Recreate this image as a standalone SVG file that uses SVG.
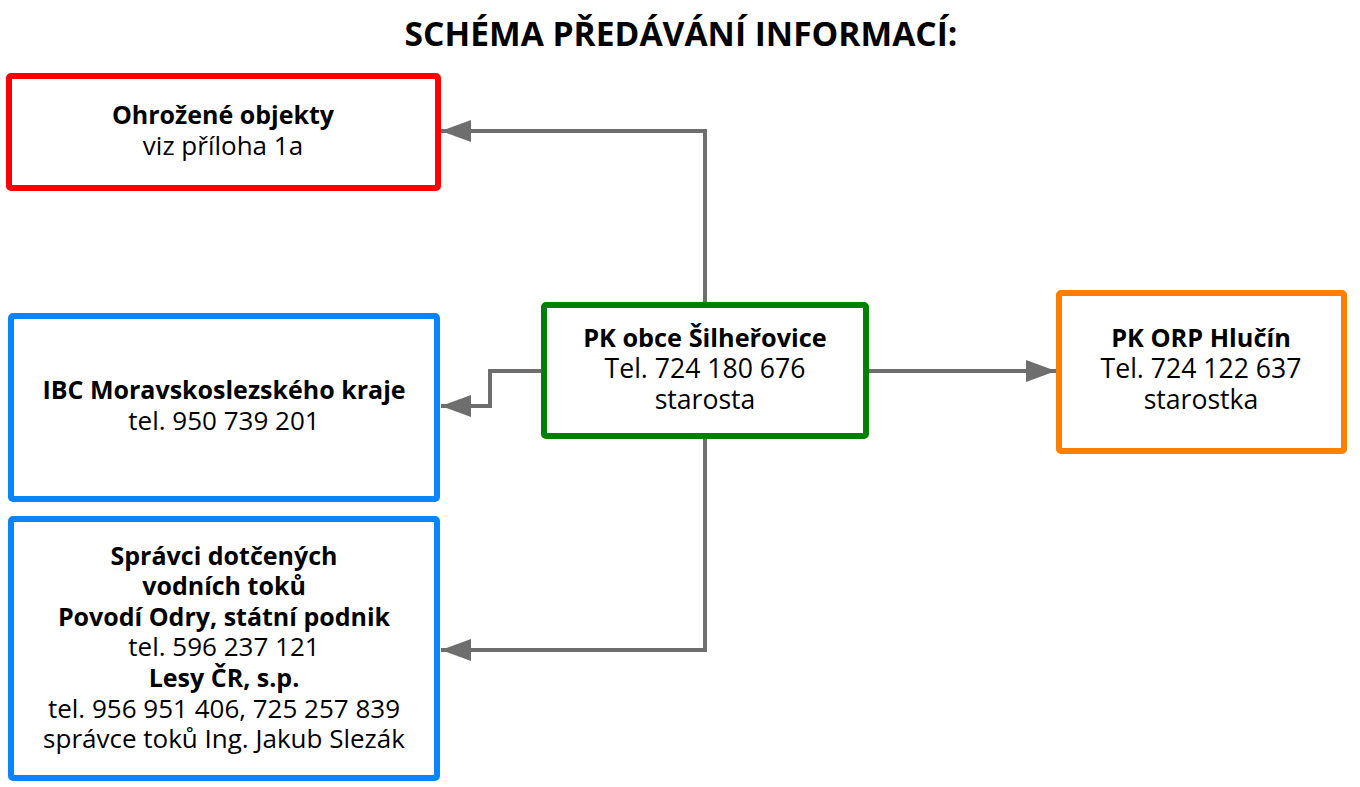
<svg xmlns="http://www.w3.org/2000/svg" width="1360" height="787" viewBox="0 0 1360 787">
<defs>
<style>
.box{fill:#fff;stroke-width:6;}
.t{font-family:"Open Sans","Noto Sans","DejaVu Sans",sans-serif;fill:#000;text-anchor:middle;}
.l{font-size:26px;}
.l.b{font-size:25px;}
.c{font-size:26.6px;}
.c.b{font-size:25.3px;}
.b{font-weight:bold;}
.conn{fill:none;stroke:#6e6e6e;stroke-width:4;}
</style>
<marker id="arr" markerUnits="userSpaceOnUse" markerWidth="30" markerHeight="22" refX="30" refY="11" orient="auto">
<path d="M0,0 L30,11 L0,22 Z" fill="#6e6e6e"/>
</marker>
</defs>
<rect width="1360" height="787" fill="#fff"/>
<text x="681" y="46" class="t b" font-size="33.6">SCHÉMA PŘEDÁVÁNÍ INFORMACÍ:</text>
<g id="connectors">
<path class="conn" d="M705,302 V131 H441" marker-end="url(#arr)"/>
<path class="conn" d="M541,371 H490 V406 H441" marker-end="url(#arr)"/>
<path class="conn" d="M705,439 V650 H441" marker-end="url(#arr)"/>
<path class="conn" d="M869,371 H1056" marker-end="url(#arr)"/>
</g>
<g id="ohrozene">
<rect class="box" x="9" y="76" width="429" height="112" stroke="#ff0000" rx="2"/>
<text class="t l b" x="223" y="124">Ohrožené objekty</text>
<text class="t l" x="223" y="155">viz příloha 1a</text>
</g>
<g id="ibc">
<rect class="box" x="11" y="316" width="426" height="183" stroke="#0a84ff" rx="2"/>
<text class="t l b" x="224" y="399">IBC Moravskoslezského kraje</text>
<text class="t l" x="224" y="430">tel. 950 739 201</text>
</g>
<g id="spravci">
<rect class="box" x="11" y="519" width="426" height="259" stroke="#0a84ff" rx="2"/>
<text class="t l b" x="224" y="565">Správci dotčených</text>
<text class="t l b" x="224" y="595">vodních toků</text>
<text class="t l b" x="224" y="626">Povodí Odry, státní podnik</text>
<text class="t l" x="224" y="656">tel. 596 237 121</text>
<text class="t l b" x="224" y="687">Lesy ČR, s.p.</text>
<text class="t l" x="224" y="718">tel. 956 951 406, 725 257 839</text>
<text class="t l" x="224" y="748">správce toků Ing. Jakub Slezák</text>
</g>
<g id="pk-obce">
<rect class="box" x="544" y="305" width="322" height="131" stroke="#008000" rx="2"/>
<text class="t c b" x="705" y="347">PK obce Šilheřovice</text>
<text class="t c" x="705" y="378">Tel. 724 180 676</text>
<text class="t c" x="705" y="409">starosta</text>
</g>
<g id="pk-orp">
<rect class="box" x="1059" y="293" width="285" height="158" stroke="#ff8000" rx="2"/>
<text class="t c b" x="1201" y="347">PK ORP Hlučín</text>
<text class="t c" x="1201" y="378">Tel. 724 122 637</text>
<text class="t c" x="1201" y="409">starostka</text>
</g>
</svg>
